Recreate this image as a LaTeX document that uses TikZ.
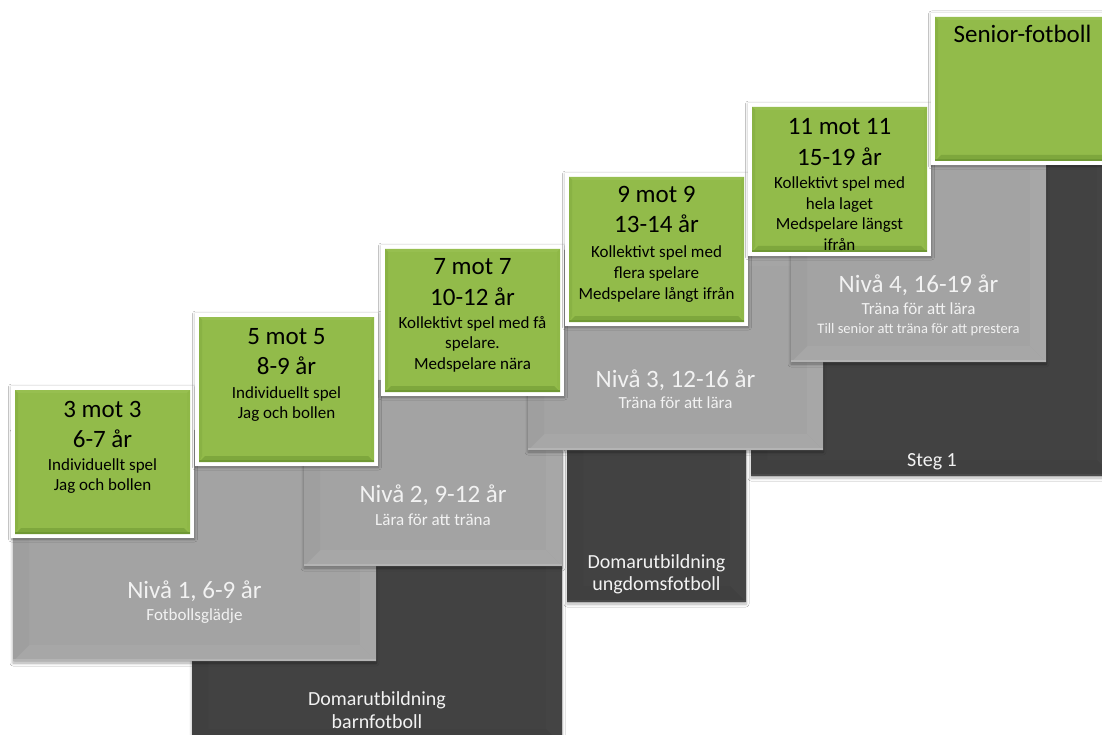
\documentclass[tikz,border=0pt]{standalone}
\usepackage{fontspec}
\setmainfont{Carlito}
\usetikzlibrary{shadows.blur}

% palette
\definecolor{cardface}{HTML}{92BB4A}
\definecolor{cardT}{HTML}{97BF50}
\definecolor{cardL}{HTML}{89B244}
\definecolor{cardR}{HTML}{8FB847}
\definecolor{cardB}{HTML}{7EA73D}
\definecolor{cardE}{HTML}{6F9834}
\definecolor{lgface}{HTML}{A3A3A3}
\definecolor{lgT}{HTML}{A5A5A5}
\definecolor{lgL}{HTML}{9F9F9F}
\definecolor{lgR}{HTML}{A7A7A7}
\definecolor{lgB}{HTML}{A7A7A7}
\definecolor{lgE}{HTML}{B4B4B4}
\definecolor{dkface}{HTML}{424242}
\definecolor{dkT}{HTML}{464646}
\definecolor{dkL}{HTML}{404040}
\definecolor{dkR}{HTML}{444444}
\definecolor{dkB}{HTML}{404040}
\definecolor{dkE}{HTML}{4A4A4A}
\definecolor{paletxt}{HTML}{F2F2F2}

\tikzset{
  every node/.style={inner sep=0pt, outer sep=0pt},
  lgbox/.style={fill=lgface, blur shadow={shadow xshift=0pt, shadow yshift=-2pt,
      shadow blur radius=3pt, shadow opacity=35, shadow blur steps=6}},
  dkbox/.style={fill=dkface, blur shadow={shadow xshift=0pt, shadow yshift=-2pt,
      shadow blur radius=3pt, shadow opacity=30, shadow blur steps=6}},
  cardframe/.style={fill=white, blur shadow={shadow xshift=0.5pt, shadow yshift=-1pt,
      shadow blur radius=3pt, shadow opacity=35, shadow blur steps=6}},
  cardfill/.style={fill=cardface},
  cardtitle/.style={text=black, font=\fontsize{25}{30}\selectfont},
  cardsub/.style={text=black, font=\fontsize{17}{20}\selectfont},
  leveltitle/.style={text=paletxt, font=\fontsize{25}{30}\selectfont},
  levelsub/.style={text=paletxt, font=\fontsize{17}{20}\selectfont},
  levelsmall/.style={text=paletxt, font=\fontsize{14.5}{18}\selectfont},
  refereetxt/.style={text=paletxt, font=\fontsize{20}{24}\selectfont},
}

% one line of text per node, baselines spaced evenly
\newcommand\txtlines[6]{%
  \foreach \linetext [count=\k] in {#6}
    \node[#2, anchor=base] (#1\k) at (#3, {#4+(\k-1)*#5}) {\linetext};%
}

% bevelled block: name, x1, y1, x2, y2, palette prefix
\newcommand\levelblock[6]{%
  \node[#6box, anchor=north west, minimum width={#4pt-#2pt},
        minimum height={#5pt-#3pt}] (#1) at (#2,#3) {};
  \def\bw{16pt}%
  \fill[#6T] (#1.north west) -- (#1.north east) -- ([xshift=-\bw,yshift=-\bw]#1.north east)
     -- ([xshift=\bw,yshift=-\bw]#1.north west) -- cycle;
  \fill[#6B] (#1.south west) -- (#1.south east) -- ([xshift=-\bw,yshift=\bw]#1.south east)
     -- ([xshift=\bw,yshift=\bw]#1.south west) -- cycle;
  \fill[#6L] (#1.north west) -- ([xshift=\bw,yshift=-\bw]#1.north west)
     -- ([xshift=\bw,yshift=\bw]#1.south west) -- (#1.south west) -- cycle;
  \fill[#6R] (#1.north east) -- ([xshift=-\bw,yshift=-\bw]#1.north east)
     -- ([xshift=-\bw,yshift=\bw]#1.south east) -- (#1.south east) -- cycle;
  \fill[#6E] (#1.south west) rectangle ([yshift=2pt]#1.south east);
}

% green card with white frame: name, x1, y1, x2, y2
\newcommand\stepcard[5]{%
  \node[cardframe, anchor=north west, minimum width={#4pt-#2pt},
        minimum height={#5pt-#3pt}] (#1) at (#2,#3) {};
  \node[cardfill, anchor=north west, minimum width={#4pt-#2pt-8pt},
        minimum height={#5pt-#3pt-8pt}] (#1f) at ({#2+4},{#3+4}) {};
  \fill[cardT] (#1f.north west) -- (#1f.north east) -- ([xshift=-3pt,yshift=-3pt]#1f.north east)
     -- ([xshift=3pt,yshift=-3pt]#1f.north west) -- cycle;
  \fill[cardL] (#1f.north west) -- ([xshift=3pt,yshift=-3pt]#1f.north west)
     -- ([xshift=3pt,yshift=6pt]#1f.south west) -- (#1f.south west) -- cycle;
  \fill[cardR] (#1f.north east) -- ([xshift=-3pt,yshift=-3pt]#1f.north east)
     -- ([xshift=-3pt,yshift=6pt]#1f.south east) -- (#1f.south east) -- cycle;
  \fill[cardB] (#1f.south west) -- (#1f.south east) -- ([xshift=-6pt,yshift=6pt]#1f.south east)
     -- ([xshift=6pt,yshift=6pt]#1f.south west) -- cycle;
  \fill[cardE] (#1f.south west) rectangle ([yshift=2pt]#1f.south east);
}

\begin{document}
\begin{tikzpicture}[x=1pt, y=-1pt]
  \useasboundingbox (0,0) rectangle (1102,735);
  \fill[white] (0,0) rectangle (1102,735);
  \clip (0,0) rectangle (1102,735);

  % referee education blocks
  \levelblock{dA}{192}{450}{562}{745}{dk}
  \levelblock{dB}{567}{300}{746}{602}{dk}
  \levelblock{dC}{751}{140}{1113}{476}{dk}

  % development levels
  \levelblock{lA}{13}{430}{376}{661}{lg}
  \levelblock{lB}{304}{380}{562}{566}{lg}
  \levelblock{lC}{528}{250}{823}{450}{lg}
  \levelblock{lD}{791}{150}{1046}{362}{lg}

  % texts on the dark blocks
  \txtlines{dAt}{refereetxt}{377}{705}{23.5}{Domarutbildning,barnfotboll}
  \txtlines{dBt}{refereetxt}{656.5}{568}{22.5}{Domarutbildning,ungdomsfotboll}
  \txtlines{dCt}{refereetxt}{932}{466}{22}{Steg 1}

  % texts on the grey blocks
  \txtlines{lAt}{leveltitle}{194.5}{598}{0}{{Nivå 1, 6-9 år}}
  \txtlines{lAs}{levelsub}{194.5}{620}{0}{Fotbollsglädje}
  \txtlines{lBt}{leveltitle}{433}{502}{0}{{Nivå 2, 9-12 år}}
  \txtlines{lBs}{levelsub}{433}{525}{0}{Lära för att träna}
  \txtlines{lCt}{leveltitle}{675.5}{387}{0}{{Nivå 3, 12-16 år}}
  \txtlines{lCs}{levelsub}{675.5}{408}{0}{Träna för att lära}
  \txtlines{lDt}{leveltitle}{918.5}{292}{0}{{Nivå 4, 16-19 år}}
  \txtlines{lDs}{levelsub}{918.5}{314}{0}{Träna för att lära}
  \txtlines{lDx}{levelsmall}{918.5}{333}{0}{Till senior att träna för att prestera}

  % green cards
  \stepcard{cA}{11}{386}{194}{538}
  \stepcard{cB}{195}{313}{378}{466}
  \stepcard{cC}{381}{245}{564}{396}
  \stepcard{cD}{565}{173}{748}{326}
  \stepcard{cE}{748}{103}{931}{256}
  \stepcard{cF}{931}{13}{1114}{165}

  \txtlines{cAt}{cardtitle}{102.5}{417}{30}{3 mot 3,6-7 år}
  \txtlines{cAs}{cardsub}{102.5}{470}{20}{Individuellt spel,Jag och bollen}
  \txtlines{cBt}{cardtitle}{286.5}{344}{30}{5 mot 5,8-9 år}
  \txtlines{cBs}{cardsub}{286.5}{398}{20}{Individuellt spel,Jag och bollen}
  \txtlines{cCt}{cardtitle}{472.5}{274.5}{30.5}{7 mot 7,10-12 år}
  \txtlines{cCs}{cardsub}{472.5}{328}{20.5}{Kollektivt spel med få,spelare.,Medspelare nära}
  \txtlines{cDt}{cardtitle}{656.5}{203}{30}{9 mot 9,13-14 år}
  \txtlines{cDs}{cardsub}{656.5}{258}{20.5}{Kollektivt spel med,flera spelare,Medspelare långt ifrån}
  \txtlines{cEt}{cardtitle}{839.5}{135}{31}{11 mot 11,15-19 år}
  \txtlines{cEs}{cardsub}{839.5}{189}{20.5}{Kollektivt spel med,hela laget,Medspelare längst,ifrån}
  \txtlines{cFt}{cardtitle}{1022.5}{43}{0}{Senior-fotboll}
\end{tikzpicture}
\end{document}
